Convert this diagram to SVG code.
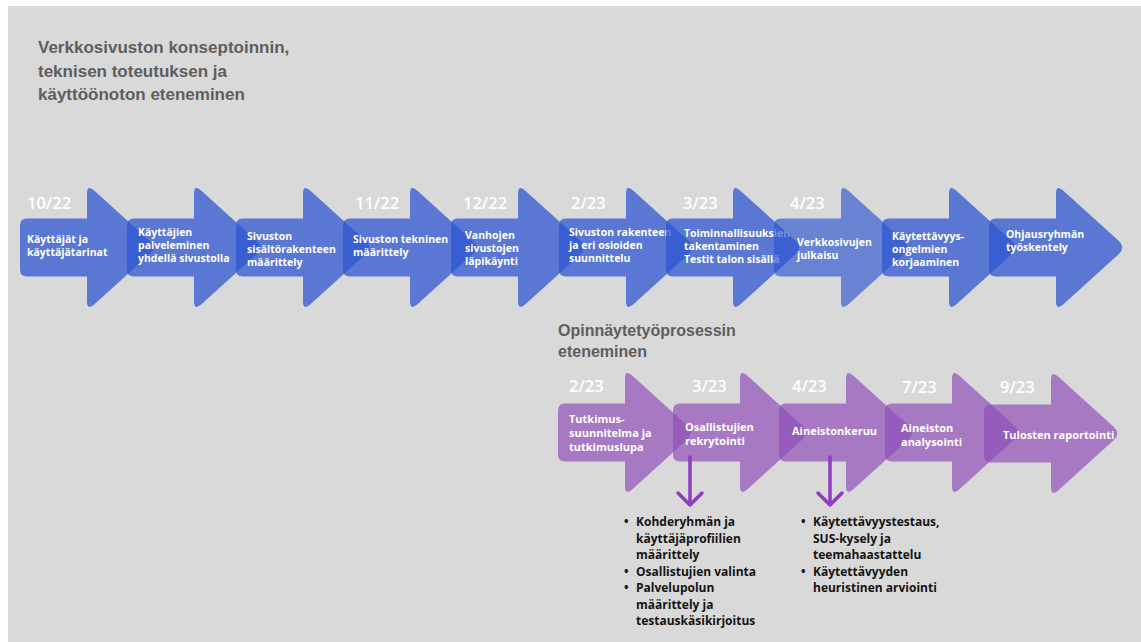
<svg xmlns="http://www.w3.org/2000/svg" xmlns:xlink="http://www.w3.org/1999/xlink" width="1141" height="642" viewBox="0 0 1141 642">
  <defs>
    <style>
      .heading { font-family: "Liberation Sans", Arial, sans-serif; font-weight: bold; fill: #5e5e5e; }
      .blue { fill: #2d55d0; fill-opacity: 0.75; }
      .blue-light { fill: #2d55d0; fill-opacity: 0.65; }
      .purple { fill: #9050b8; fill-opacity: 0.7; }
      .date { font-family: "Open Sans", "Noto Sans", sans-serif; font-weight: 600; font-size: 16.5px; fill: #ffffff; }
      .label { font-family: "Open Sans", "Noto Sans", sans-serif; font-weight: bold; font-size: 10.5px; fill: #ffffff; }
      .plabel { font-family: "Open Sans", "Noto Sans", sans-serif; font-weight: bold; font-size: 11px; fill: #ffffff; }
      .list { font-family: "Open Sans", "Noto Sans", sans-serif; font-weight: bold; font-size: 12px; fill: #141414; }
      .pointer { fill: none; stroke: #8e3cc0; stroke-width: 3.5; stroke-linecap: round; stroke-linejoin: round; }
    </style>
    <!-- block arrow: rounded body on the left, rounded triangular head on the right; origin = body left edge, vertical centre -->
    <path id="arrow-shape" d="M7,-29 H67 V-53.5 Q67,-63.5 74.4,-56.8 L129.6,-6.7 Q137,0 129.6,6.7 L74.4,56.8 Q67,63.5 67,53.5 V29 H7 Q0,29 0,22 V-22 Q0,-29 7,-29 Z"/>
  </defs>

  <!-- page -->
  <rect x="0" y="0" width="1141" height="642" fill="#ffffff"/>
  <rect x="8" y="6" width="1133" height="636" fill="#d9d9d9"/>

  <!-- headings -->
  <g id="title-website">
    <text class="heading" font-size="17">
      <tspan x="38" y="53">Verkkosivuston konseptoinnin,</tspan>
      <tspan x="38" y="77">teknisen toteutuksen ja</tspan>
      <tspan x="38" y="100">käyttöönoton eteneminen</tspan>
    </text>
  </g>
  <g id="title-thesis">
    <text class="heading" font-size="16">
      <tspan x="558" y="336">Opinnäytetyöprosessin</tspan>
      <tspan x="558" y="357">eteneminen</tspan>
    </text>
  </g>

  <!-- website timeline -->
  <g id="web-1">
    <use href="#arrow-shape" class="blue" transform="translate(20,247.5)"/>
    <text class="date" x="27" y="209">10/22</text>
    <text class="label"><tspan x="27" y="243">Käyttäjät ja</tspan><tspan x="27" y="256">käyttäjätarinat</tspan></text>
  </g>
  <g id="web-2">
    <use href="#arrow-shape" class="blue" transform="translate(127,247.5)"/>
    <text class="label"><tspan x="138" y="236">Käyttäjien</tspan><tspan x="138" y="249">palveleminen</tspan><tspan x="138" y="262">yhdellä sivustolla</tspan></text>
  </g>
  <g id="web-3">
    <use href="#arrow-shape" class="blue" transform="translate(236,247.5)"/>
    <text class="label"><tspan x="247" y="240">Sivuston</tspan><tspan x="247" y="253">sisältörakenteen</tspan><tspan x="247" y="266">määrittely</tspan></text>
  </g>
  <g id="web-4">
    <use href="#arrow-shape" class="blue" transform="translate(343,247.5)"/>
    <text class="date" x="355" y="209">11/22</text>
    <text class="label"><tspan x="353" y="243">Sivuston tekninen</tspan><tspan x="353" y="256">määrittely</tspan></text>
  </g>
  <g id="web-5">
    <use href="#arrow-shape" class="blue" transform="translate(451,247.5)"/>
    <text class="date" x="463" y="209">12/22</text>
    <text class="label"><tspan x="465" y="239">Vanhojen</tspan><tspan x="465" y="252">sivustojen</tspan><tspan x="465" y="265">läpikäynti</tspan></text>
  </g>
  <g id="web-6">
    <use href="#arrow-shape" class="blue" transform="translate(559,247.5)"/>
    <text class="date" x="571" y="209">2/23</text>
    <text class="label"><tspan x="569" y="236">Sivuston rakenteen</tspan><tspan x="569" y="249">ja eri osioiden</tspan><tspan x="569" y="262">suunnittelu</tspan></text>
  </g>
  <g id="web-7">
    <use href="#arrow-shape" class="blue" transform="translate(666,247.5)"/>
    <text class="date" x="683" y="209">3/23</text>
    <text class="label"><tspan x="684" y="237">Toiminnallisuuksien</tspan><tspan x="684" y="250">takentaminen</tspan><tspan x="684" y="263">Testit talon sisällä</tspan></text>
  </g>
  <g id="web-8">
    <use href="#arrow-shape" class="blue-light" transform="translate(774,247.5)"/>
    <text class="date" x="790" y="209">4/23</text>
    <text class="label"><tspan x="797" y="246">Verkkosivujen</tspan><tspan x="797" y="259">julkaisu</tspan></text>
  </g>
  <g id="web-9">
    <use href="#arrow-shape" class="blue" transform="translate(882,247.5)"/>
    <text class="label"><tspan x="892" y="240">Käytettävyys-</tspan><tspan x="892" y="253">ongelmien</tspan><tspan x="892" y="266">korjaaminen</tspan></text>
  </g>
  <g id="web-10">
    <use href="#arrow-shape" class="blue" transform="translate(989,247.5)"/>
    <text class="label"><tspan x="1006" y="238">Ohjausryhmän</tspan><tspan x="1006" y="251">työskentely</tspan></text>
  </g>

  <!-- thesis timeline -->
  <g id="thesis-1">
    <use href="#arrow-shape" class="purple" transform="translate(558,432.5)"/>
    <text class="date" x="569" y="392">2/23</text>
    <text class="plabel"><tspan x="569" y="423">Tutkimus-</tspan><tspan x="569" y="437">suunnitelma ja</tspan><tspan x="569" y="451">tutkimuslupa</tspan></text>
  </g>
  <g id="thesis-2">
    <use href="#arrow-shape" class="purple" transform="translate(673,432.5)"/>
    <text class="date" x="692" y="392">3/23</text>
    <text class="plabel"><tspan x="685" y="431">Osallistujien</tspan><tspan x="685" y="445">rekrytointi</tspan></text>
  </g>
  <g id="thesis-3">
    <use href="#arrow-shape" class="purple" transform="translate(779,432.5)"/>
    <text class="date" x="792" y="392">4/23</text>
    <text class="plabel" x="792" y="435">Aineistonkeruu</text>
  </g>
  <g id="thesis-4">
    <use href="#arrow-shape" class="purple" transform="translate(885,432.5)"/>
    <text class="date" x="902" y="393">7/23</text>
    <text class="plabel"><tspan x="901" y="432">Aineiston</tspan><tspan x="901" y="446">analysointi</tspan></text>
  </g>
  <g id="thesis-5">
    <use href="#arrow-shape" class="purple" transform="translate(984,433.5)"/>
    <text class="date" x="1000" y="393">9/23</text>
    <text class="plabel" x="1003" y="439">Tulosten raportointi</text>
  </g>

  <!-- pointers from thesis steps down to their task lists -->
  <g id="connectors">
    <path class="pointer" d="M690,457 V505 M678,493 L690,505 L702,493"/>
    <path class="pointer" d="M830,457 V505 M818,493 L830,505 L842,493"/>
  </g>

  <!-- task lists -->
  <g id="list-recruitment">
    <text class="list">
      <tspan x="624" y="526">•</tspan><tspan x="636" y="526">Kohderyhmän ja</tspan>
      <tspan x="636" y="542.5">käyttäjäprofiilien</tspan>
      <tspan x="636" y="559">määrittely</tspan>
      <tspan x="624" y="575.5">•</tspan><tspan x="636" y="575.5">Osallistujien valinta</tspan>
      <tspan x="624" y="592">•</tspan><tspan x="636" y="592">Palvelupolun</tspan>
      <tspan x="636" y="608.5">määrittely ja</tspan>
      <tspan x="636" y="625">testauskäsikirjoitus</tspan>
    </text>
  </g>
  <g id="list-data-collection">
    <text class="list">
      <tspan x="801" y="526">•</tspan><tspan x="813" y="526">Käytettävyystestaus,</tspan>
      <tspan x="813" y="542.5">SUS-kysely ja</tspan>
      <tspan x="813" y="559">teemahaastattelu</tspan>
      <tspan x="801" y="575.5">•</tspan><tspan x="813" y="575.5">Käytettävyyden</tspan>
      <tspan x="813" y="592">heuristinen arviointi</tspan>
    </text>
  </g>
</svg>
